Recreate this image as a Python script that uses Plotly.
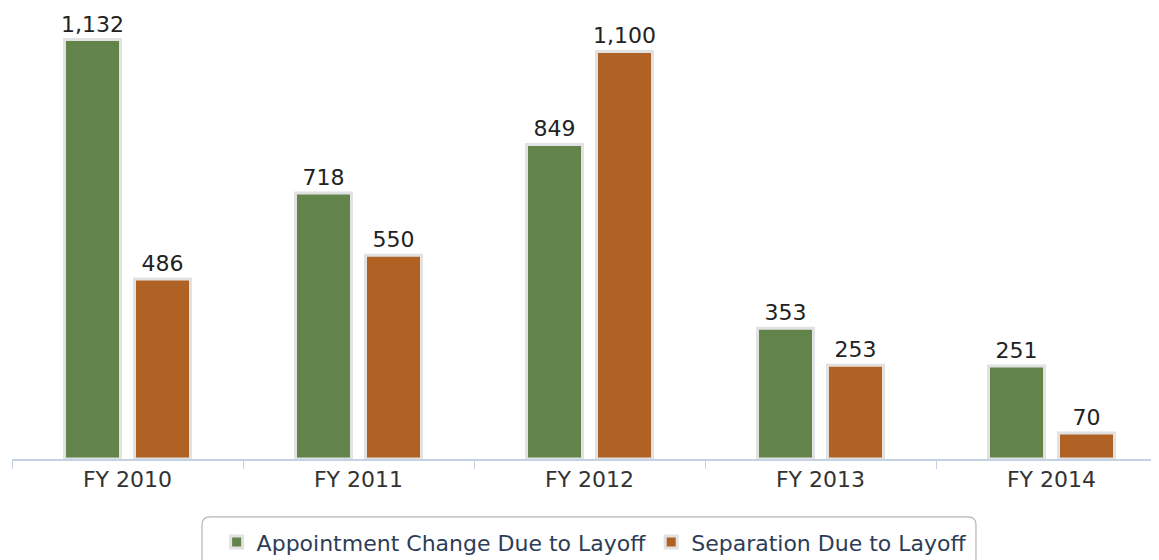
import plotly.graph_objects as go

years = ["FY 2010", "FY 2011", "FY 2012", "FY 2013", "FY 2014"]
appointment_change = [1132, 718, 849, 353, 251]
separation = [486, 550, 1100, 253, 70]

GREEN = "#62844a"
ORANGE = "#b06124"

fig = go.Figure()

fig.add_trace(go.Bar(
    x=years,
    y=appointment_change,
    name="Appointment Change Due to Layoff",
    marker=dict(color=GREEN, line=dict(color="#e2e2e2", width=3)),
    text=[f"{v:,}" for v in appointment_change],
    textposition="outside",
    cliponaxis=False,
))

fig.add_trace(go.Bar(
    x=years,
    y=separation,
    name="Separation Due to Layoff",
    marker=dict(color=ORANGE, line=dict(color="#e2e2e2", width=3)),
    text=[f"{v:,}" for v in separation],
    textposition="outside",
    cliponaxis=False,
))

fig.update_traces(
    textfont=dict(family="DejaVu Sans", size=22, color="#222222"),
    constraintext="none",
    hoverinfo="x+y+name",
)

# rounded frame behind the legend
x0, x1 = 0.1645, 0.8346
y0, y1 = -0.130, -0.30
rx, ry = 0.007, 0.018
fig.add_shape(
    type="path",
    xref="paper", yref="paper",
    path=(f"M {x0 + rx},{y0} L {x1 - rx},{y0} Q {x1},{y0} {x1},{y0 - ry} "
          f"L {x1},{y1} L {x0},{y1} L {x0},{y0 - ry} Q {x0},{y0} {x0 + rx},{y0} Z"),
    line=dict(color="#b5b5b5", width=1.2),
    fillcolor="rgba(0,0,0,0)",
    layer="below",
)

fig.update_layout(
    width=1159,
    height=560,
    margin=dict(l=4, r=0, t=6, b=109),
    paper_bgcolor="white",
    plot_bgcolor="white",
    barmode="group",
    bargap=0.394,
    bargroupgap=0.2,
    font=dict(family="DejaVu Sans", color="#333333"),
    xaxis=dict(
        type="category",
        range=[-0.5, 4.5],
        showline=True,
        linecolor="#c3d1e2",
        linewidth=1.5,
        ticks="outside",
        tickson="boundaries",
        ticklen=8,
        tickcolor="#c3d1e2",
        tickfont=dict(size=22, color="#333333"),
        showgrid=False,
    ),
    yaxis=dict(
        range=[0, 1201],
        visible=False,
        showgrid=False,
    ),
    legend=dict(
        orientation="h",
        x=0.504,
        xanchor="center",
        y=-0.14,
        yanchor="top",
        font=dict(size=22, color="#2e3d57"),
        bgcolor="rgba(0,0,0,0)",
        borderwidth=0,
        itemwidth=30,
    ),
    showlegend=True,
)

fig.write_html("out.html")
